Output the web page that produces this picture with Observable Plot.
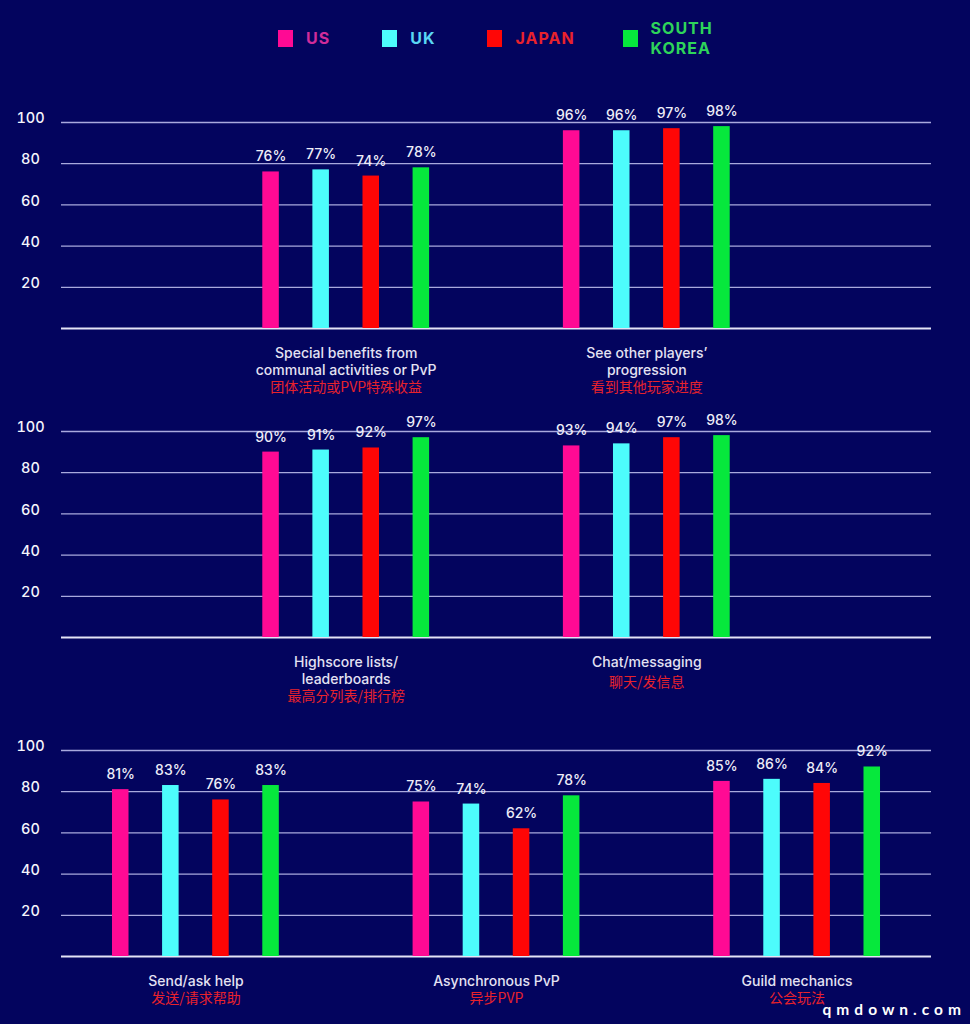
<!DOCTYPE html>
<html><head><meta charset="utf-8">
<script src="https://cdn.jsdelivr.net/npm/d3@7"></script>
<script src="https://cdn.jsdelivr.net/npm/@observablehq/plot@0.6"></script>
<style>
html,body{margin:0;padding:0;background:#03045e;}
body{width:970px;height:1024px;position:relative;overflow:hidden;font-family:Inter,"Noto Sans",sans-serif;}
#legend{height:70px;display:flex;align-items:center;padding-left:278px;box-sizing:border-box;padding-top:6px}
.item{display:flex;align-items:center;margin-right:52px}
.item:nth-child(3){margin-right:48px}
.sw{width:15px;height:17px;margin-right:13px}
.lab{font-weight:700;font-size:16px;letter-spacing:1px;white-space:pre-line;line-height:20.5px}
svg{display:block}
#wm{position:absolute;right:4px;top:1000px;color:#fff;font:bold 15.5px Lato, sans-serif;letter-spacing:5px;line-height:18px}
</style></head><body>
<div id="legend"></div>
<div id="rows"></div>
<div id="wm">qmdown.com</div>
<script>
const countries = ["US", "UK", "JAPAN", "SOUTH KOREA"];
const legendLabels = ["US", "UK", "JAPAN", "SOUTH\nKOREA"];
const barColors = ["#ff0a94", "#4dfcfc", "#ff0606", "#06e83c"];
const legendTextColors = ["#d02c9a", "#5ad6f4", "#e8222c", "#2ed45a"];

const features = ["communal", "progression", "highscore", "chat", "help", "asyncpvp", "guild"];
const labelsEn = [
  "Special benefits from\ncommunal activities or PvP",
  "See other players’\nprogression",
  "Highscore lists/\nleaderboards",
  "Chat/messaging",
  "Send/ask help",
  "Asynchronous PvP",
  "Guild mechanics"
];
const labelsZh = ["团体活动或PVP特殊收益", "看到其他玩家进度", "最高分列表/排行榜", "聊天/发信息", "发送/请求帮助", "异步PVP", "公会玩法"];

const valuesUS = [76, 96, 90, 93, 81, 75, 85];
const valuesUK = [77, 96, 91, 94, 83, 74, 86];
const valuesJapan = [74, 97, 92, 97, 76, 62, 84];
const valuesSouthKorea = [78, 98, 97, 98, 83, 78, 92];

const rowFeatures = [[0, 1], [2, 3], [4, 5, 6]];
const yTicks = [20, 40, 60, 80, 100];

// ---- legend ----
const legend = document.getElementById("legend");
countries.forEach((c, i) => {
  const item = document.createElement("div");
  item.className = "item";
  const sw = document.createElement("div");
  sw.className = "sw";
  sw.style.background = barColors[i];
  const lab = document.createElement("div");
  lab.className = "lab";
  lab.style.color = legendTextColors[i];
  lab.textContent = legendLabels[i];
  item.append(sw, lab);
  legend.append(item);
});

// ---- rows ----
const seriesValues = [valuesUS, valuesUK, valuesJapan, valuesSouthKorea];
const rowMargins = [{top: 52, bottom: 73}, {top: 30, bottom: 64}, {top: 49, bottom: 68}];
const plotH = 206;
const halfStep = 25.05;
const innerPad = 0.34;
const plotW = 970 - 61 - 39;
const lineGap = 17;
const zhGap = 19.5;

function slotsFor(idx) {
  const s = [];
  idx.forEach((fi, g) => {
    if (g > 0) for (let k = 0; k < 5; k++) s.push(`gap${g}-${k}`);
    const f = features[fi];
    s.push(`${f}|US`, `${f}|s1`, `${f}|UK`, `${f}|mid`, `${f}|JAPAN`, `${f}|s2`, `${f}|SOUTH KOREA`);
  });
  return s;
}

const rows = document.getElementById("rows");
rowFeatures.forEach((idx, r) => {
  const slots = slotsFor(idx);
  const po = (plotW / halfStep - slots.length + innerPad) / 2;
  const data = [];
  idx.forEach(fi => countries.forEach((c, ci) => {
    data.push({feature: features[fi], country: c, key: `${features[fi]}|${c}`, value: seriesValues[ci][fi]});
  }));
  const m = rowMargins[r];
  const midKey = fi => `${features[fi]}|mid`;
  const nLines = fi => labelsEn[fi].split("\n").length;
  const zhMarks = [1, 2].map(n =>
    Plot.text(idx.filter(fi => nLines(fi) === n), {
      x: midKey, frameAnchor: "bottom", text: fi => labelsZh[fi], lineAnchor: "top",
      dy: 17 + lineGap * (n - 1) + zhGap + (n === 1 && r === 1 ? 3 : 0),
      fill: "#e8222c", fontSize: 14, fontFamily: "'Noto Sans CJK SC', sans-serif"
    })
  );
  const chart = Plot.plot({
    width: 970,
    height: m.top + plotH + m.bottom,
    marginLeft: 61,
    marginRight: 39,
    marginTop: m.top,
    marginBottom: m.bottom,
    style: {background: "transparent", fontFamily: "Inter, 'Noto Sans', sans-serif", overflow: "visible"},
    x: {type: "band", domain: slots, paddingInner: innerPad, paddingOuter: po, round: false, axis: null},
    y: {domain: [0, 100], axis: null},
    color: {domain: countries, range: barColors},
    marks: [
      Plot.ruleY(yTicks, {stroke: "#a9a9de", strokeWidth: 1.3}),
      Plot.ruleY([0], {stroke: "#e4e4f6", strokeWidth: 2}),
      Plot.barY(data, {x: "key", y: "value", fill: "country"}),
      Plot.text(data, {x: "key", y: "value", text: d => d.value + "%", dy: -15, fill: "#eeedf8", fontSize: 14, fontWeight: 500}),
      Plot.text(yTicks, {y: d => d, frameAnchor: "left", dx: -31, dy: -4, textAnchor: "middle", fill: "#f5f5fc", fontSize: 14.5, fontWeight: 500}),
      Plot.text(idx, {x: midKey, frameAnchor: "bottom", text: fi => labelsEn[fi], lineAnchor: "top", dy: 17, lineHeight: lineGap / 14, fill: "#e4e2f3", fontSize: 14, fontWeight: 500}),
      ...zhMarks
    ]
  });
  rows.append(chart);
});
</script>
</body></html>
